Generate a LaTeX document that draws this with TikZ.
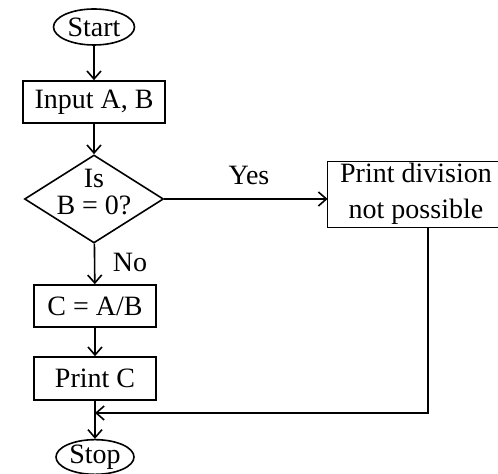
\documentclass[tikz,border=0pt]{standalone}
\usepackage{fontspec}
\setmainfont{Liberation Serif}
\usetikzlibrary{shapes.geometric,arrows.meta}
\begin{document}
\begin{tikzpicture}[x=0.5pt,y=-0.5pt,
  every node/.style={font=\fontsize{14pt}{17pt}\selectfont},
  box/.style={draw,line width=0.8pt,inner sep=0pt},
  openbox/.style={inner sep=0pt},
  edge/.style={line width=0.8pt},
  term/.style={draw,ellipse,line width=0.8pt,inner sep=0pt},
  decision/.style={draw,diamond,line width=0.8pt,inner sep=0pt},
  conn/.style={line width=0.8pt,-{Straight Barb[length=4pt,width=7pt]}},
  lbl/.style={inner sep=0pt}]
\useasboundingbox (0,0) rectangle (498,474);
\clip (0,0) rectangle (498,474);
\node[term,minimum width=40.5pt,minimum height=18pt] (start) at (94,27) {Start};
\node[box,minimum width=71pt,minimum height=21pt] (input) at (94,102) {Input A, B};
\node[decision,minimum width=69.5pt,minimum height=44pt] (dec) at (94,199) {};
\node[lbl,align=center,font=\fontsize{14pt}{13.5pt}\selectfont] (dectext) at (94,192) {Is\\B = 0?};
\node[openbox,minimum width=95pt,minimum height=32.5pt] (pdiv) at (423,194.5) {};
\draw[edge] (pdiv.north east) -- (pdiv.north west) -- (pdiv.south west) -- (pdiv.south east);
\node[lbl,align=center,font=\fontsize{14pt}{18pt}\selectfont] (pdivtext) at (416,194) {Print division\\not possible};
\node[box,minimum width=61pt,minimum height=21pt] (cab) at (95,306) {C = A/B};
\node[box,minimum width=61pt,minimum height=21.5pt] (printc) at (95,378.5) {Print C};
\node[term,minimum width=39pt,minimum height=17pt] (stop) at (95,457) {Stop};
\node[lbl] (yes) at (249,175) {Yes};
\node[lbl] (no) at (130,262) {No};
\coordinate (join) at (95,413);
\draw[conn] (start) -- (input);
\draw[conn] (input) -- (dec);
\draw[conn] (dec.east) -- (dec.east -| pdiv.west);
\draw[conn] (dec) -- (cab);
\draw[conn] (cab) -- (printc);
\draw[conn] (printc) -- (stop);
\draw[conn] ([xshift=2.5pt]pdiv.south) |- (join);
\end{tikzpicture}
\end{document}
